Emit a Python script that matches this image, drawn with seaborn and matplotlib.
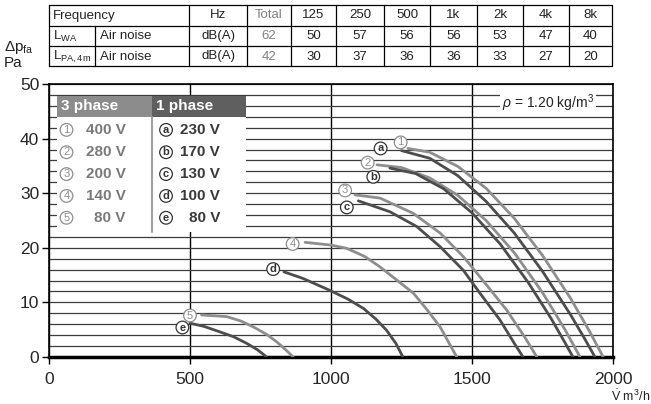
import matplotlib
matplotlib.use("Agg")
import pandas as pd
import matplotlib.pyplot as plt
from matplotlib.patches import Rectangle
import seaborn as sns

# sound table
bands = ['Hz', 'Total', '125', '250', '500', '1k', '2k', '4k', '8k']
lwa_row = ['dB(A)', '62', '50', '57', '56', '56', '53', '47', '40']
lpa_row = ['dB(A)', '42', '30', '37', '36', '36', '33', '27', '20']

# 3 phase curves (flow m3/h, pressure Pa)
q_400v = [1273, 1350, 1450, 1550, 1650, 1750, 1850, 1920, 1965]
p_400v = [38.2, 37.5, 34.9, 30.9, 25.4, 18.6, 10.7, 4.4, 0]
q_280v = [1163, 1250, 1350, 1450, 1550, 1650, 1750, 1830, 1883]
p_280v = [35.2, 34.7, 32.8, 29.6, 25.0, 19.1, 11.8, 5.0, 0]
q_200v = [1085, 1174, 1292, 1387, 1469, 1528, 1623, 1690, 1730]
p_200v = [29.7, 29.1, 26.3, 22.7, 18.4, 14.7, 8.6, 3.4, 0]
q_140v = [908, 1000, 1056, 1120, 1174, 1292, 1340, 1387, 1446]
p_140v = [21.0, 20.5, 19.9, 18.4, 16.5, 11.7, 8.7, 5.5, 0]
q_80v3 = [541, 630, 680, 725, 770, 807, 840, 866]
p_80v3 = [7.7, 7.4, 6.6, 5.5, 4.2, 2.8, 1.3, 0]

# 1 phase curves
q_230v = [1250, 1350, 1450, 1550, 1650, 1750, 1850, 1900, 1936]
p_230v = [37.8, 36.4, 33.2, 28.5, 22.7, 15.7, 7.7, 3.3, 0]
q_170v = [1209, 1300, 1400, 1500, 1600, 1700, 1780, 1830, 1858]
p_170v = [34.6, 33.6, 30.8, 26.4, 20.7, 13.6, 7.1, 2.6, 0]
q_130v = [1097, 1209, 1304, 1387, 1469, 1528, 1599, 1650, 1681]
p_130v = [28.6, 26.6, 23.9, 20.2, 15.9, 11.7, 6.8, 2.5, 0]
q_100v = [833, 900, 996, 1060, 1115, 1160, 1197, 1230, 1255]
p_100v = [15.6, 14.4, 12.2, 10.6, 8.9, 6.9, 4.9, 2.5, 0]
q_80v1 = [500, 550, 606, 655, 701, 740, 772]
p_80v1 = [6.2, 5.6, 4.6, 3.7, 2.5, 1.3, 0]

three_keys = ['1', '2', '3', '4', '5']
three_volts = ['400 V', '280 V', '200 V', '140 V', '80 V']
one_keys = ['a', 'b', 'c', 'd', 'e']
one_volts = ['230 V', '170 V', '130 V', '100 V', '80 V']

curves = {
    '1': (q_400v, p_400v), '2': (q_280v, p_280v), '3': (q_200v, p_200v),
    '4': (q_140v, p_140v), '5': (q_80v3, p_80v3),
    'a': (q_230v, p_230v), 'b': (q_170v, p_170v), 'c': (q_130v, p_130v),
    'd': (q_100v, p_100v), 'e': (q_80v1, p_80v1),
}
rows = []
for k, (qs, ps) in curves.items():
    for q, p in zip(qs, ps):
        rows.append({'curve': k, 'flow': q, 'dp': p})
df = pd.DataFrame(rows)

light = '#8e8e8e'
dark = '#4d4d4d'
palette = {k: light for k in three_keys}
palette.update({k: dark for k in one_keys})

sns.set_style('white')
plt.rcParams['font.family'] = ['Liberation Sans', 'DejaVu Sans']
plt.rcParams['mathtext.fontset'] = 'custom'
plt.rcParams['mathtext.rm'] = 'Liberation Sans'
plt.rcParams['mathtext.it'] = 'Liberation Sans:italic'
narrow = ['Liberation Sans Narrow', 'Liberation Sans', 'DejaVu Sans']

fig = plt.figure(figsize=(6.51, 4.04), dpi=100)
ax = fig.add_axes([49 / 651, 1 - 357 / 404, 564 / 651, 273 / 404])

sns.lineplot(data=df, x='flow', y='dp', hue='curve', palette=palette,
             sort=False, estimator=None, legend=False, linewidth=2,
             ax=ax, zorder=4)

ax.set_xlim(0, 2000)
ax.set_ylim(0, 50)
ax.set_xticks([0, 500, 1000, 1500, 2000])
ax.set_yticks([0, 10, 20, 30, 40, 50])
ax.set_yticks(range(0, 51, 2), minor=True)
ax.set_xlabel('')
ax.set_ylabel('')
ax.set_axisbelow(True)
ax.grid(axis='y', which='both', color='#3c3c3c', linewidth=0.9)
ax.grid(axis='x', which='major', color='black', linewidth=1)
ax.tick_params(axis='both', which='major', length=5, width=1, labelsize=12.5,
               color='black', direction='out', left=True, bottom=True, pad=2)
ax.tick_params(axis='x', which='major', pad=6)
ax.tick_params(axis='y', which='minor', length=0)
for side in ['left', 'right', 'top']:
    ax.spines[side].set_color('black')
    ax.spines[side].set_linewidth(1.2)
ax.spines['bottom'].set_color('black')
ax.spines['bottom'].set_linewidth(2.5)

# legend block
ax.add_patch(Rectangle((28, 22.9), 671, 21.1, facecolor='white',
                       edgecolor='none', zorder=3))
ax.add_patch(Rectangle((28, 44.0), 337, 3.8, facecolor='#8c8c8c',
                       edgecolor='none', zorder=3))
ax.add_patch(Rectangle((365, 44.0), 334, 3.8, facecolor='#5f5f5f',
                       edgecolor='none', zorder=3))
ax.plot([365, 365], [22.9, 44.0], color='#a0a0a0', linewidth=1.5, zorder=3)
ax.text(42, 45.9, '3 phase', color='white', fontsize=11, fontweight='bold',
        va='center', ha='left', zorder=4)
ax.text(378, 45.9, '1 phase', color='white', fontsize=11, fontweight='bold',
        va='center', ha='left', zorder=4)
row_y = [41.6, 37.5, 33.5, 29.5, 25.5]
for i in range(5):
    ax.text(62, row_y[i], three_keys[i], color=light, fontsize=8, ha='center',
            va='center', zorder=4,
            bbox=dict(boxstyle='circle,pad=0.12', fc='white', ec=light, lw=0.9))
    ax.text(272, row_y[i], three_volts[i], color='#7a7a7a', fontsize=11,
            fontweight='bold', ha='right', va='center', zorder=4)
    ax.text(415, row_y[i], one_keys[i], color='#333333', fontsize=8,
            fontweight='bold', ha='center', va='center', zorder=4,
            bbox=dict(boxstyle='circle,pad=0.12', fc='white', ec='#333333', lw=0.9))
    ax.text(606, row_y[i], one_volts[i], color='#3a3a3a', fontsize=11,
            fontweight='bold', ha='right', va='center', zorder=4)

# curve labels
label_pos = {'1': (1247, 39.3), 'a': (1176, 38.2), '2': (1130, 35.6),
             'b': (1150, 33.0), '3': (1050, 30.5), 'c': (1056, 27.4),
             '4': (864, 20.7), 'd': (795, 16.1), '5': (500, 7.6),
             'e': (473, 5.4)}
for k, (x, y) in label_pos.items():
    is3 = k in three_keys
    col = light if is3 else '#333333'
    ax.text(x, y, k, color=col, fontsize=8, ha='center', va='center',
            fontweight='normal' if is3 else 'bold', zorder=6,
            bbox=dict(boxstyle='circle,pad=0.12', fc='white', ec=col, lw=0.9))

ax.text(1770, 46.5, r'$\rho$ = 1.20 kg/m$^3$', fontsize=10, color='#222222',
        ha='center', va='center', zorder=5,
        bbox=dict(boxstyle='square,pad=0.15', fc='white', ec='none'))

# overlay in pixel units for the table and axis titles
ov = fig.add_axes([0, 0, 1, 1], facecolor='none')
ov.set_xlim(0, 651)
ov.set_ylim(404, 0)
ov.axis('off')

row_lines = [5, 25.5, 46, 66]
col_lines = [49, 189, 247, 291, 336, 384, 430, 477, 523, 569, 612]
for y in row_lines:
    ov.plot([49, 612], [y, y], color='black', linewidth=0.9)
for x in col_lines:
    ov.plot([x, x], [5, 66], color='black', linewidth=0.9)
ov.plot([95, 95], [25.5, 66], color='black', linewidth=0.9)

tfs = 9.5
ov.text(53, 15.5, 'Frequency', fontsize=tfs, family=narrow, va='center', color='#222222')
ov.text(53, 36, r'L$_{\mathregular{WA}}$', fontsize=tfs, family=narrow, va='center', color='#222222')
ov.text(53, 56.5, r'L$_{\mathregular{PA,4m}}$', fontsize=tfs, family=narrow, va='center', color='#222222')
ov.text(100, 36, 'Air noise', fontsize=tfs, family=narrow, va='center', color='#222222')
ov.text(100, 56.5, 'Air noise', fontsize=tfs, family=narrow, va='center', color='#222222')
for j in range(len(bands)):
    xc = (col_lines[j + 1] + col_lines[j + 2]) / 2
    col = '#808080' if bands[j] == 'Total' else '#222222'
    ov.text(xc, 15.5, bands[j], fontsize=tfs, family=narrow, ha='center', va='center', color=col)
    ov.text(xc, 36, lwa_row[j], fontsize=tfs, family=narrow, ha='center', va='center', color=col)
    ov.text(xc, 56.5, lpa_row[j], fontsize=tfs, family=narrow, ha='center', va='center', color=col)

ov.text(4, 47, r'$\mathregular{\Delta p_{fa}}$', fontsize=11, ha='left', va='center', color='#222222')
ov.text(4, 63, 'Pa', fontsize=11, ha='left', va='center', color='#222222')
ov.text(611, 396, r'$\dot{\mathregular{V}}$ m$^3$/h', fontsize=9, ha='left', va='center', color='#222222')

fig.savefig('out.png', dpi=100)
